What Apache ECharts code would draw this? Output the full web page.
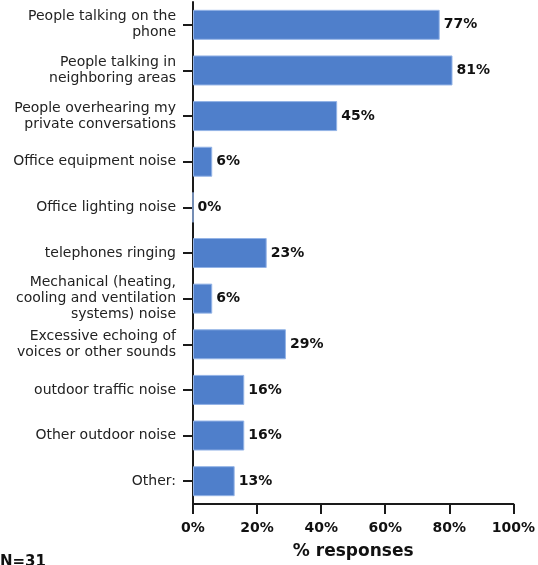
<!DOCTYPE html>
<html>
<head>
<meta charset="utf-8">
<script src="https://cdn.jsdelivr.net/npm/echarts@6/dist/echarts.min.js"></script>
<style>html,body{margin:0;padding:0;background:#fff;}#c{width:538px;height:565px;}</style>
</head>
<body>
<div id="c"></div>
<script>
var categories = [
  "People talking on the\nphone",
  "People talking in\nneighboring areas",
  "People overhearing my\nprivate conversations",
  "Office equipment noise",
  "Office lighting noise",
  "telephones ringing",
  "Mechanical (heating,\ncooling and ventilation\nsystems) noise",
  "Excessive echoing of\nvoices or other sounds",
  "outdoor traffic noise",
  "Other outdoor noise",
  "Other:"
];
var responses = [77, 81, 45, 6, 0, 23, 6, 29, 16, 16, 13];
var axisTitle = "% responses";
var footnote = "N=31";

var chart = echarts.init(document.getElementById('c'));
chart.setOption({
  animation: false,
  backgroundColor: '#fff',
  grid: { left: 193, right: 21, top: 2, bottom: 55, containLabel: false },
  xAxis: {
    type: 'value', min: 0, max: 100, interval: 20,
    axisLine: { show: true, lineStyle: { color: '#1a1a1a', width: 2 } },
    axisTick: { show: true, length: 10, lineStyle: { color: '#1a1a1a', width: 2 } },
    splitLine: { show: false },
    axisLabel: { formatter: '{value}%', margin: 17, color: '#111', fontFamily: 'DejaVu Sans', fontWeight: 'bold', fontSize: 14 },
    name: axisTitle, nameLocation: 'middle', nameGap: 39,
    nameTextStyle: { color: '#111', fontFamily: 'DejaVu Sans', fontWeight: 'bold', fontSize: 17 }
  },
  yAxis: {
    type: 'category', data: categories, inverse: true,
    axisLine: { show: true, lineStyle: { color: '#1a1a1a', width: 2 } },
    axisTick: { show: true, alignWithLabel: true, length: 10, lineStyle: { color: '#1a1a1a', width: 2 } },
    axisLabel: { margin: 17, color: '#222', fontFamily: 'DejaVu Sans', fontSize: 14, lineHeight: 16, align: 'right' }
  },
  series: [{
    type: 'bar', data: responses, barWidth: 30,
    itemStyle: { color: '#4f7fcb', borderColor: '#93b3e6', borderWidth: 1 },
    label: { show: true, position: 'right', distance: 4, formatter: '{c}%', color: '#111', fontFamily: 'DejaVu Sans', fontWeight: 'bold', fontSize: 14 }
  }],
  graphic: [{
    type: 'text', left: 0, top: 555,
    style: { text: footnote, fill: '#111', font: 'bold 15px "DejaVu Sans"' }
  }]
});
</script>
</body>
</html>
